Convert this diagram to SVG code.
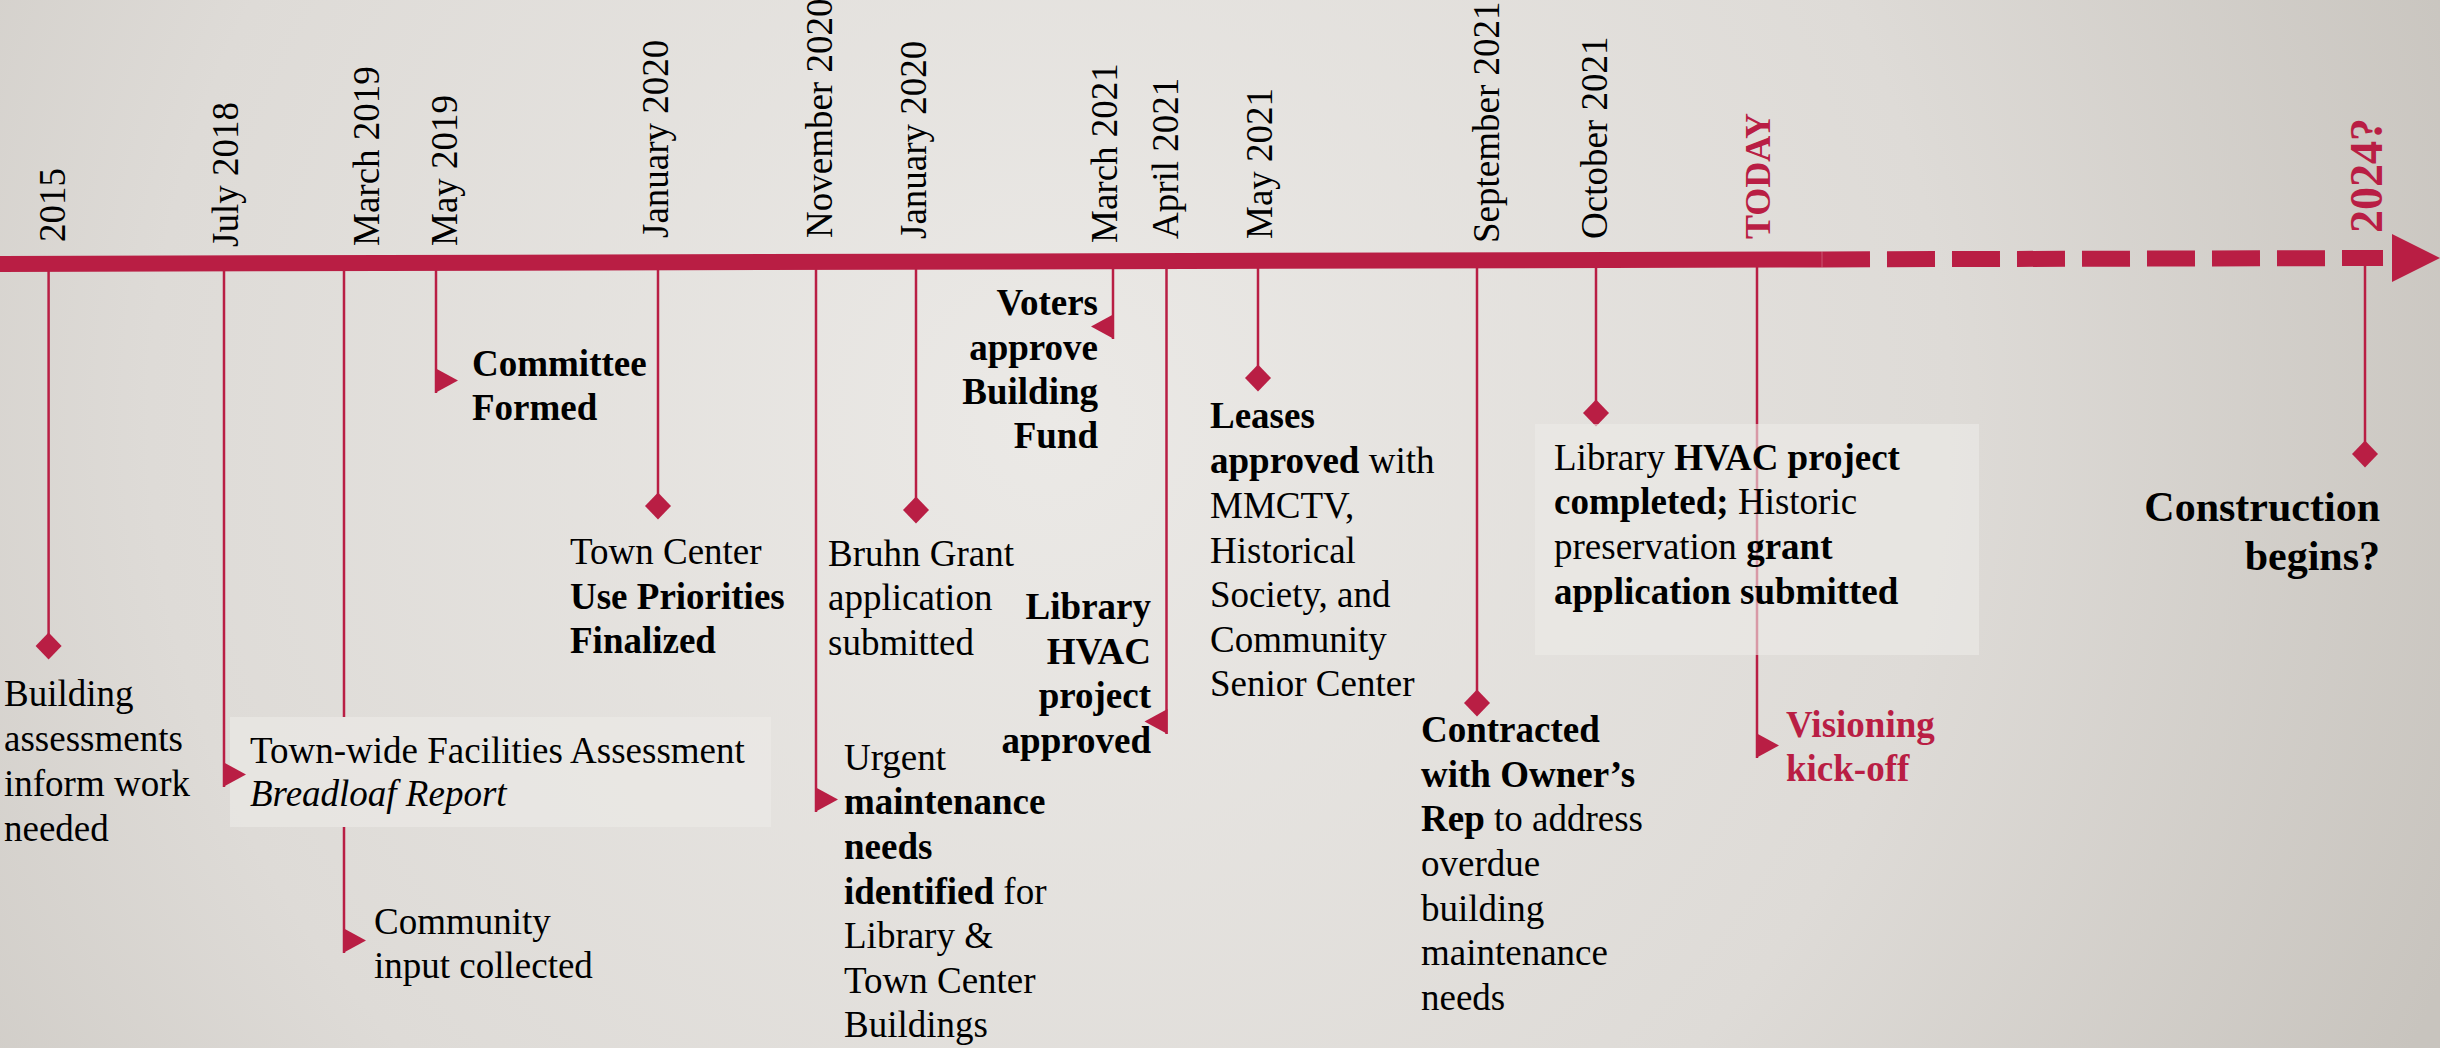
<svg xmlns="http://www.w3.org/2000/svg" width="2440" height="1048" viewBox="0 0 2440 1048">
<defs>
<radialGradient id="bg" gradientUnits="userSpaceOnUse" cx="1050" cy="420" r="1500">
<stop offset="0" stop-color="#ebe9e6"/>
<stop offset="0.6" stop-color="#dedbd7"/>
<stop offset="1" stop-color="#c8c4be"/>
</radialGradient>
<marker id="dia" markerUnits="userSpaceOnUse" orient="0" refX="0" refY="0" markerWidth="30" markerHeight="30" overflow="visible">
<polygon points="0,-13.5 13,0 0,13.5 -13,0" fill="#b91e44"/>
</marker>
<marker id="triR" markerUnits="userSpaceOnUse" orient="0" refX="0" refY="0" markerWidth="30" markerHeight="30" overflow="visible">
<polygon points="-1,-25 22,-12.5 -1,0" fill="#b91e44"/>
</marker>
<marker id="triL" markerUnits="userSpaceOnUse" orient="0" refX="0" refY="0" markerWidth="30" markerHeight="30" overflow="visible">
<polygon points="1,-25 -22,-12.5 1,0" fill="#b91e44"/>
</marker>
</defs>
<style>
.tick{stroke:#b91e44;stroke-width:2.5;fill:none}
.d{marker-end:url(#dia)}
.r{marker-end:url(#triR)}
.l{marker-end:url(#triL)}
text{font-family:"Liberation Serif","Times New Roman",serif;font-size:37px;fill:#000}
.b{font-weight:bold}
.i{font-style:italic}
.red{fill:#b91e44}
.end{text-anchor:end}
.box{fill:#ecebe8;opacity:0.6}
</style>
<rect x="0" y="0" width="2440" height="1048" fill="url(#bg)"/>

<g id="n2018">
<rect class="box" x="230" y="717" width="541" height="110"/>
<text><tspan x="250" y="763">Town-wide Facilities Assessment</tspan><tspan class="i" x="250" y="806">Breadloaf Report</tspan></text>
</g>

<g id="connectors">
<line class="tick d" x1="48.6" y1="264" x2="48.6" y2="646"/>
<line class="tick r" x1="224" y1="264" x2="224" y2="787"/>
<path class="tick r" d="M344,264 V717 M344,827 V953"/>
<line class="tick r" x1="436" y1="264" x2="436" y2="393"/>
<line class="tick d" x1="658" y1="264" x2="658" y2="506"/>
<line class="tick r" x1="816" y1="264" x2="816" y2="812"/>
<line class="tick d" x1="916" y1="264" x2="916" y2="510"/>
<line class="tick l" x1="1113" y1="264" x2="1113" y2="339"/>
<line class="tick l" x1="1166.5" y1="264" x2="1166.5" y2="734"/>
<line class="tick d" x1="1258" y1="264" x2="1258" y2="378"/>
<line class="tick d" x1="1477" y1="264" x2="1477" y2="703"/>
<line class="tick d" x1="1596" y1="264" x2="1596" y2="413"/>
<line class="tick r" x1="1757" y1="264" x2="1757" y2="758"/>
<line class="tick d" x1="2365" y1="264" x2="2365" y2="454"/>
</g>

<g id="timeline">
<line x1="0" y1="264" x2="1822" y2="259.4" stroke="#b91e44" stroke-width="16"/>
<line x1="1822" y1="259.4" x2="2383" y2="258" stroke="#b91e44" stroke-width="16" stroke-dasharray="48 17"/>
<line x1="1822" y1="251.6" x2="1822" y2="267.2" stroke="#ffffff" stroke-opacity="0.25" stroke-width="1"/>
<polygon points="2392,234 2440,258 2392,282" fill="#b91e44"/>
</g>

<g id="dates">
<text transform="translate(65,242) rotate(-90)">2015</text>
<text transform="translate(238,247) rotate(-90)">July 2018</text>
<text transform="translate(379,246) rotate(-90)">March 2019</text>
<text transform="translate(457,246) rotate(-90)">May 2019</text>
<text transform="translate(668,238) rotate(-90)">January 2020</text>
<text transform="translate(832,238) rotate(-90)">November 2020</text>
<text transform="translate(926,239) rotate(-90)">January 2020</text>
<text transform="translate(1117,243) rotate(-90)">March 2021</text>
<text transform="translate(1178,239) rotate(-90)">April 2021</text>
<text transform="translate(1272,239) rotate(-90)">May 2021</text>
<text transform="translate(1499,243) rotate(-90)">September 2021</text>
<text transform="translate(1607,239) rotate(-90)">October 2021</text>
<text class="b red" style="font-size:36px" transform="translate(1770,239) rotate(-90)">TODAY</text>
<text class="b red" style="font-size:46px" transform="translate(2382,233) rotate(-90)">2024?</text>
</g>

<g id="n2015">
<text><tspan x="4" y="706">Building</tspan><tspan x="4" y="751">assessments</tspan><tspan x="4" y="796">inform work</tspan><tspan x="4" y="841">needed</tspan></text>
</g>

<g id="n2019mar">
<text><tspan x="374" y="934">Community</tspan><tspan x="374" y="978">input collected</tspan></text>
</g>

<g id="n2019may">
<text class="b"><tspan x="472" y="376">Committee</tspan><tspan x="472" y="420">Formed</tspan></text>
</g>

<g id="n2020jan">
<text><tspan x="570" y="564">Town Center</tspan><tspan class="b" x="570" y="609">Use Priorities</tspan><tspan class="b" x="570" y="653">Finalized</tspan></text>
</g>

<g id="n2020nov">
<text><tspan x="844" y="770">Urgent</tspan><tspan class="b" x="844" y="814">maintenance</tspan><tspan class="b" x="844" y="859">needs</tspan><tspan class="b" x="844" y="904">identified</tspan><tspan> for</tspan><tspan x="844" y="948">Library &amp;</tspan><tspan x="844" y="993">Town Center</tspan><tspan x="844" y="1037">Buildings</tspan></text>
</g>

<g id="n2020jan2">
<text><tspan x="828" y="566">Bruhn Grant</tspan><tspan x="828" y="610">application</tspan><tspan x="828" y="655">submitted</tspan></text>
</g>

<g id="n2021mar">
<text class="b end"><tspan x="1098" y="315">Voters</tspan><tspan x="1098" y="360">approve</tspan><tspan x="1098" y="404">Building</tspan><tspan x="1098" y="448">Fund</tspan></text>
</g>

<g id="n2021apr">
<text class="b end"><tspan x="1151" y="619">Library</tspan><tspan x="1151" y="664">HVAC</tspan><tspan x="1151" y="708">project</tspan><tspan x="1151" y="753">approved</tspan></text>
</g>

<g id="n2021may">
<text><tspan class="b" x="1210" y="428">Leases</tspan><tspan class="b" x="1210" y="473">approved</tspan><tspan> with</tspan><tspan x="1210" y="518">MMCTV,</tspan><tspan x="1210" y="563">Historical</tspan><tspan x="1210" y="607">Society, and</tspan><tspan x="1210" y="652">Community</tspan><tspan x="1210" y="696">Senior Center</tspan></text>
</g>

<g id="n2021sep">
<text><tspan class="b" x="1421" y="742">Contracted</tspan><tspan class="b" x="1421" y="787">with Owner’s</tspan><tspan class="b" x="1421" y="831">Rep</tspan><tspan> to address</tspan><tspan x="1421" y="876">overdue</tspan><tspan x="1421" y="921">building</tspan><tspan x="1421" y="965">maintenance</tspan><tspan x="1421" y="1010">needs</tspan></text>
</g>

<g id="n2021oct">
<rect class="box" x="1535" y="424" width="444" height="231"/>
<text><tspan x="1554" y="470">Library </tspan><tspan class="b">HVAC project</tspan><tspan class="b" x="1554" y="514">completed;</tspan><tspan> Historic</tspan><tspan x="1554" y="559">preservation </tspan><tspan class="b">grant</tspan><tspan class="b" x="1554" y="604">application submitted</tspan></text>
</g>

<g id="ntoday">
<text class="b red"><tspan x="1786" y="737">Visioning</tspan><tspan x="1786" y="781">kick-off</tspan></text>
</g>

<g id="n2024">
<text class="b end" style="font-size:42px"><tspan x="2380" y="521">Construction</tspan><tspan x="2380" y="570">begins?</tspan></text>
</g>
</svg>
